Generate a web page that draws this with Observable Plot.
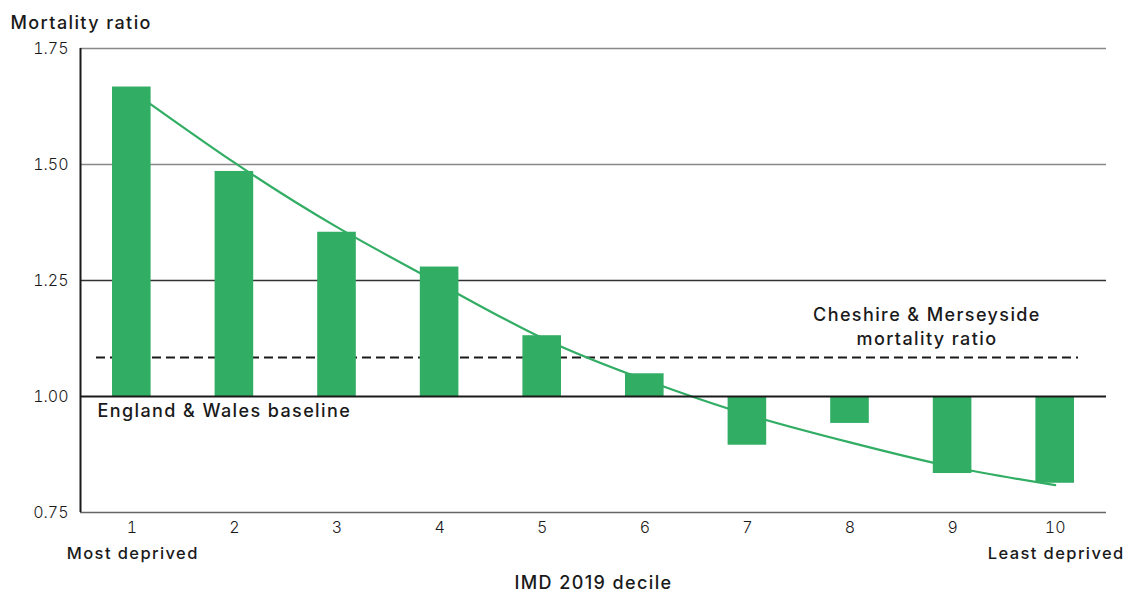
<!DOCTYPE html>
<html>
<head>
<meta charset="utf-8">
<script src="https://cdn.jsdelivr.net/npm/d3@7"></script>
<script src="https://cdn.jsdelivr.net/npm/@observablehq/plot@0.6"></script>
<style>
  html, body { margin: 0; padding: 0; background: #fff; }
  #chart { width: 1125px; height: 591px; }
  #chart g[font-weight="500"] text { letter-spacing: 1.4px; }
</style>
</head>
<body>
<div id="chart"></div>
<script>
const deciles = [1, 2, 3, 4, 5, 6, 7, 8, 9, 10];
const mortalityRatios = [1.667, 1.485, 1.354, 1.279, 1.131, 1.049, 0.895, 0.942, 0.834, 0.813];
const trendValues = [1.659, 1.504, 1.365, 1.243, 1.126, 1.036, 0.961, 0.901, 0.848, 0.809];
const regionRatio = 1.084;
const baseline = 1.0;
const yTicks = [0.75, 1.00, 1.25, 1.50, 1.75];
const gridValues = [1.25, 1.50, 1.75];
const endLabels = [{decile: 1, label: "Most deprived"}, {decile: 10, label: "Least deprived"}];

const bars = deciles.map((d, i) => ({decile: d, ratio: mortalityRatios[i]}));
const trend = deciles.map((d, i) => ({decile: d, value: trendValues[i]}));

const green = "#31ad64";
const ink = "#1a1a1a";
const font = "Inter, 'Open Sans', sans-serif";

const chart = Plot.plot({
  width: 1125,
  height: 591,
  marginLeft: 80,
  marginRight: 19,
  marginTop: 48,
  marginBottom: 79,
  style: {fontFamily: font, fontSize: "16px", color: ink, background: "#fff"},
  x: {domain: [0.5, 10.5]},
  y: {domain: [0.75, 1.75]},
  marks: [
    Plot.ruleY(gridValues, {stroke: d => d === 1.25 ? "#333" : "#888", strokeWidth: 1.3}),
    Plot.ruleY([regionRatio], {stroke: ink, strokeWidth: 2, strokeDasharray: "9,5", insetLeft: 16, insetRight: 28}),
    Plot.line(trend, {x: "decile", y: "value", stroke: green, strokeWidth: 2.2, curve: "natural"}),
    Plot.rectY(bars, {x1: d => d.decile - 0.5, x2: d => d.decile + 0.5, y1: baseline, y2: "ratio", fill: green, insetLeft: 32, insetRight: 32}),
    Plot.ruleY([baseline], {stroke: ink, strokeWidth: 2.2}),
    Plot.ruleY([0.75], {stroke: "#666", strokeWidth: 1.5}),
    Plot.ruleX([0.5], {y1: 0.75, y2: 1.75, stroke: ink, strokeWidth: 2}),
    Plot.axisY({ticks: yTicks, tickFormat: d3.format(".2f"), tickSize: 0, tickPadding: 12, label: null, fontSize: 16, fontWeight: 300, fill: ink}),
    Plot.axisX({ticks: deciles, tickFormat: d => String(d), tickSize: 0, tickPadding: 9, label: null, fontSize: 16, fontWeight: 300, fill: ink}),
    Plot.text(["Mortality ratio"], {frameAnchor: "top-left", textAnchor: "start", dx: -70, dy: -32, fontSize: 18, fontWeight: 500, fill: ink}),
    Plot.text(["England & Wales baseline"], {x: 0.5, y: baseline, textAnchor: "start", dx: 17, dy: 15, fontSize: 18, fontWeight: 500, fill: ink}),
    Plot.text(["Cheshire & Merseyside\nmortality ratio"], {x: 8.75, y: regionRatio, lineAnchor: "bottom", dy: -13, lineHeight: 1.28, fontSize: 18, fontWeight: 500, fill: ink}),
    Plot.text(endLabels, {x: "decile", text: "label", frameAnchor: "bottom", dy: 46, dx: 1, fontSize: 16.5, fontWeight: 500, fill: ink}),
    Plot.text(["IMD 2019 decile"], {frameAnchor: "bottom", dy: 76, fontSize: 18, fontWeight: 500, fill: ink})
  ]
});
document.getElementById("chart").appendChild(chart);
</script>
</body>
</html>
